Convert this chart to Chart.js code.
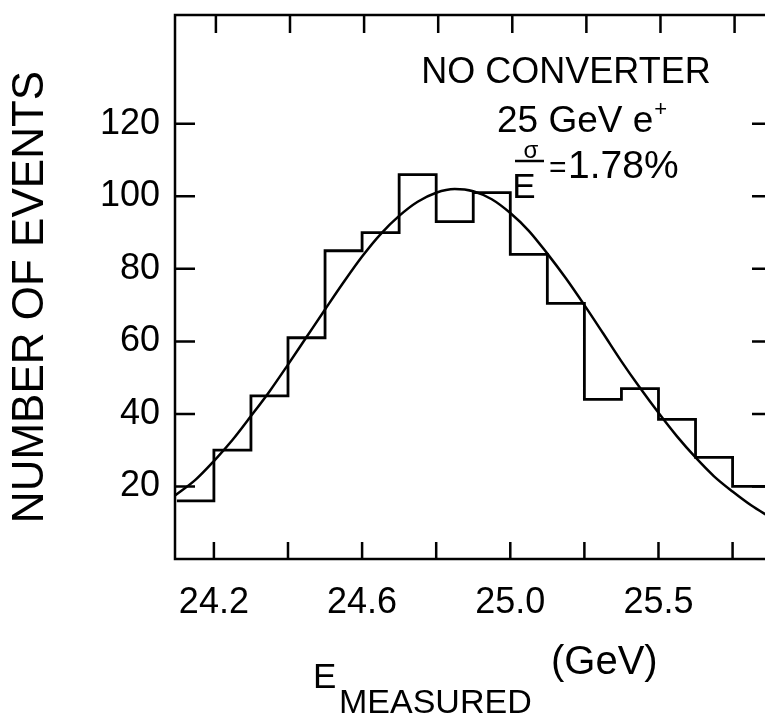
<!DOCTYPE html>
<html>
<head>
<meta charset="utf-8">
<script src="https://cdn.jsdelivr.net/npm/chart.js@4.4.1/dist/chart.umd.min.js"></script>
<style>
  html, body { margin: 0; padding: 0; background: #fff; overflow: hidden; }
  #caja { position: relative; width: 775px; height: 721px; }
</style>
</head>
<body>
<div id="caja"><canvas id="graficoEnergia"></canvas></div>
<script>
// bordes de los bins (GeV) y cuentas del histograma
const binEdges = [24.1, 24.2, 24.3, 24.4, 24.5, 24.6, 24.7, 24.8, 24.9, 25.0, 25.1, 25.2, 25.3, 25.4, 25.5, 25.6, 25.7];
const binCounts = [16, 30, 45, 61, 85, 90, 106, 93, 101, 84, 70.5, 44, 47, 38.5, 28, 20];

// curva de ajuste
const fitEnergy = [24.095, 24.15, 24.2, 24.25, 24.3, 24.35, 24.4, 24.45, 24.5, 24.55, 24.6, 24.65, 24.7, 24.75, 24.8, 24.85,
                   24.9, 24.95, 25.0, 25.05, 25.1, 25.15, 25.2, 25.25, 25.3, 25.35, 25.4, 25.45, 25.5, 25.55, 25.6, 25.65, 25.7];
const fitCounts = [17.5, 21.8, 27, 32.8, 39.4, 46.2, 53.6, 61.2, 68.8, 76.3, 83.4, 89.6, 94.6, 98.5, 101, 102,
                   101.4, 99.2, 95.4, 90.5, 84.2, 77.4, 70, 62.3, 54.5, 47.2, 40.3, 33.8, 28, 22.8, 18.6, 14.8, 11.6];

// marcas de los ejes
const xTickValues = [24.2, 24.4, 24.6, 24.8, 25.0, 25.2, 25.4, 25.6];
const xTickLabels = ['24.2', '', '24.6', '', '25.0', '', '25.5', ''];
const yTickValues = [20, 40, 60, 80, 100, 120];

Chart.defaults.font.family = '"Liberation Sans", Arial, sans-serif';
Chart.defaults.color = '#000';

const histData = binEdges.map((e, i) => ({ x: e, y: binCounts[Math.min(i, binCounts.length - 1)] }));
const fitData = fitEnergy.map((e, i) => ({ x: e, y: fitCounts[i] }));

// ticks hacia adentro, marco y textos
const extras = {
  id: 'extras',
  afterDraw(chart) {
    const { ctx, chartArea: a, scales: { x, y } } = chart;
    ctx.save();
    ctx.strokeStyle = '#000';
    ctx.lineWidth = 2.5;
    ctx.strokeRect(a.left, a.top, a.right - a.left, a.bottom - a.top);
    ctx.beginPath();
    xTickValues.forEach(v => {
      const px = x.getPixelForValue(v);
      ctx.moveTo(px, a.bottom); ctx.lineTo(px, a.bottom - 17);
      ctx.moveTo(px + 2, a.top); ctx.lineTo(px + 2, a.top + 18);
    });
    yTickValues.forEach(v => {
      const py = y.getPixelForValue(v);
      ctx.moveTo(a.left, py); ctx.lineTo(a.left + 20, py);
      ctx.moveTo(a.right, py); ctx.lineTo(a.right - 18, py);
    });
    ctx.stroke();

    const f = '"Liberation Sans", Arial, sans-serif';
    ctx.fillStyle = '#000';

    // titulo eje y
    ctx.save();
    ctx.translate(31, 297);
    ctx.rotate(-Math.PI / 2);
    ctx.textAlign = 'center';
    ctx.textBaseline = 'middle';
    ctx.font = '44px ' + f;
    ctx.fillText('NUMBER OF EVENTS', 0, 0);
    ctx.restore();

    ctx.textBaseline = 'alphabetic';
    ctx.textAlign = 'center';
    ctx.font = '36px ' + f;
    ctx.fillText('NO CONVERTER', 566, 83);

    ctx.textAlign = 'left';
    ctx.font = '37px ' + f;
    ctx.fillText('25 GeV e', 497, 132);
    const w = ctx.measureText('25 GeV e').width;
    ctx.font = '22px ' + f;
    ctx.fillText('+', 497 + w + 1, 116);

    // sigma / E
    ctx.textAlign = 'center';
    ctx.font = '24px ' + f;
    ctx.fillText('σ', 531, 158);
    ctx.beginPath();
    ctx.lineWidth = 2.5;
    ctx.moveTo(515, 161); ctx.lineTo(544, 161);
    ctx.stroke();
    ctx.font = '35px ' + f;
    ctx.fillText('E', 524, 198);
    ctx.textAlign = 'left';
    ctx.font = '30px ' + f;
    ctx.fillText('=', 549, 177);
    ctx.font = '39px ' + f;
    ctx.fillText('1.78%', 568, 178);

    // titulo eje x
    ctx.font = '35px ' + f;
    ctx.fillText('E', 313, 688);
    ctx.font = '34px ' + f;
    ctx.fillText('MEASURED', 339, 713);
    ctx.font = '40px ' + f;
    ctx.fillText('(GeV)', 551, 674);
    ctx.restore();
  }
};

const ctx = document.getElementById('graficoEnergia');

new Chart(ctx, {
  type: 'line',
  data: {
    datasets: [{
      label: 'Histograma',
      data: histData,
      stepped: 'before',
      borderColor: '#000',
      borderWidth: 2.8,
      pointRadius: 0,
      fill: false
    }, {
      label: 'Ajuste',
      data: fitData,
      borderColor: '#000',
      borderWidth: 2.5,
      pointRadius: 0,
      cubicInterpolationMode: 'monotone',
      fill: false
    }]
  },
  options: {
    responsive: true,
    maintainAspectRatio: false,
    animation: false,
    layout: { padding: { top: 15, right: 5, left: 0, bottom: 0 } },
    plugins: {
      legend: { display: false },
      tooltip: { enabled: false },
      title: { display: false }
    },
    scales: {
      x: {
        type: 'linear',
        min: 24.095,
        max: 25.701,
        afterBuildTicks: s => { s.ticks = xTickValues.map(v => ({ value: v })); },
        afterFit: s => { s.height = 162; s.paddingLeft = 0; s.paddingRight = 0; },
        ticks: {
          padding: 22,
          maxRotation: 0,
          autoSkip: false,
          font: { size: 36 },
          callback: v => xTickLabels[xTickValues.findIndex(t => Math.abs(t - v) < 1e-6)] || ''
        },
        grid: { display: false, drawTicks: false },
        border: { display: false }
      },
      y: {
        min: 0,
        max: 150,
        afterBuildTicks: s => { s.ticks = yTickValues.map(v => ({ value: v })); },
        afterFit: s => { s.width = 175; s.paddingTop = 0; s.paddingBottom = 0; },
        ticks: { padding: 15, font: { size: 36 } },
        grid: { display: false, drawTicks: false },
        border: { display: false }
      }
    }
  },
  plugins: [extras]
});
</script>
</body>
</html>
